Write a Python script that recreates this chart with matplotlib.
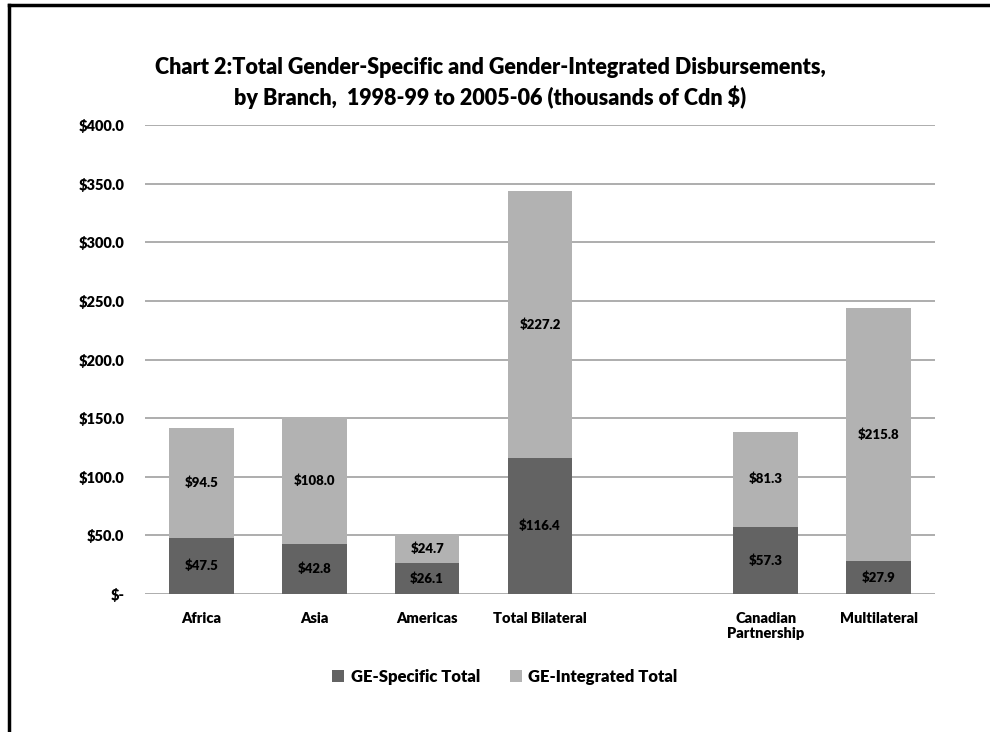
from matplotlib import pyplot as plt
from matplotlib.lines import Line2D
import numpy as np

plt.rcParams["font.family"] = ["Lato", "DejaVu Sans"]
plt.rcParams["font.weight"] = "heavy"

# Chart values (thousands of Cdn $), empty slot between bilateral and partnership
categories = ["Africa", "Asia", "Americas", "Total Bilateral", "",
              "Canadian\nPartnership", "Multilateral"]
ge_specific = [47.5, 42.8, 26.1, 116.4, np.nan, 57.3, 27.9]
ge_integrated = [94.5, 108.0, 24.7, 227.2, np.nan, 81.3, 215.8]
y_ticks = [0, 50, 100, 150, 200, 250, 300, 350, 400]
y_labels = ["$-", "$50.0", "$100.0", "$150.0", "$200.0", "$250.0",
            "$300.0", "$350.0", "$400.0"]

dark = "#636363"
light = "#b2b2b2"
wt = "heavy"

fig = plt.figure(figsize=(9.9, 7.32), dpi=100)
ax = fig.add_axes([0.1465, 0.1885, 0.7979, 0.6407])

x = np.arange(len(categories))
spec = np.array(ge_specific)
integ = np.array(ge_integrated)
w = 0.571
b1 = ax.bar(x, spec, width=w, color=dark, label="GE-Specific Total", zorder=3)
b2 = ax.bar(x, integ, width=w, bottom=spec, color=light,
            label="GE-Integrated Total", zorder=3)

for i in range(len(x)):
    if np.isnan(spec[i]):
        continue
    ax.text(x[i], spec[i] / 2, f"${spec[i]:.1f}", ha="center", va="center",
            fontsize=9.5, fontweight=wt, color="black", zorder=4)
    ax.text(x[i], spec[i] + integ[i] / 2, f"${integ[i]:.1f}", ha="center",
            va="center", fontsize=9.5, fontweight=wt, color="black", zorder=4)

ax.set_xlim(-0.5, len(categories) - 0.5)
ax.set_ylim(0, 400)
ax.set_yticks(y_ticks)
ax.set_yticklabels(y_labels, fontsize=10.5, fontweight=wt)
ax.set_xticks(x)
ax.set_xticklabels(categories, fontsize=10.5, fontweight=wt, va="top",
                   linespacing=1.2)
ax.tick_params(axis="both", length=0)
ax.tick_params(axis="y", pad=15)
ax.tick_params(axis="x", pad=13)
for s in ax.spines.values():
    s.set_visible(False)
ax.yaxis.grid(True, color="#a0a0a0", linewidth=1.2, zorder=0)
ax.set_axisbelow(True)

fig.text(0.495, 0.887,
         "Chart 2:Total Gender-Specific and Gender-Integrated Disbursements,\n"
         "by Branch,  1998-99 to 2005-06 (thousands of Cdn $)",
         ha="center", va="center", fontsize=15.5, fontweight=wt,
         linespacing=1.4)

fig.legend(handles=[b1, b2], loc="center", bbox_to_anchor=(0.51, 0.075),
           ncol=2, frameon=False, handlelength=0.7,
           handleheight=0.7, handletextpad=0.4, columnspacing=1.8,
           prop={"size": 12, "weight": wt})

# outer border (top and left edges visible)
fig.add_artist(Line2D([0.009, 1.0], [0.9925, 0.9925], color="black",
                      linewidth=2.5, transform=fig.transFigure))
fig.add_artist(Line2D([0.009, 0.009], [0.0, 0.9925], color="black",
                      linewidth=2.5, transform=fig.transFigure))

fig.savefig("out.png", dpi=100, facecolor="white")
